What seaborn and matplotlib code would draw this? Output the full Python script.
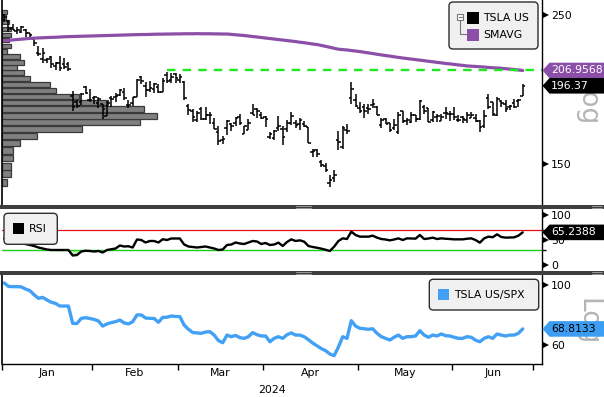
import numpy as np
import pandas as pd
import matplotlib
matplotlib.use("Agg")
import matplotlib.pyplot as plt
import seaborn as sns
from matplotlib.patches import Polygon, FancyBboxPatch, Rectangle
from matplotlib.lines import Line2D
from matplotlib.transforms import Affine2D
from matplotlib.ticker import NullLocator, FixedLocator

sns.set_theme(style="white")
plt.rcParams["font.family"] = ["DejaVu Sans"]

# ---------------- data (trading days 2 Jan 2024 .. 26 Jun 2024) ----------------
opens = [250.08, 244.98, 239.25, 236.86, 236.14, 238.11, 235.10, 230.57, 220.08, 215.10, 214.86, 216.88, 209.99, 212.26, 211.30, 211.88, 189.70, 185.50, 185.63, 195.33, 187.00,
         188.50, 185.04, 184.26, 177.21, 188.18, 189.00, 190.18, 192.11, 183.99, 185.30, 189.16, 202.06, 196.13, 193.36, 194.00, 195.31, 192.29, 204.04, 200.42, 204.18,
         200.52, 198.73, 183.05, 179.99, 174.35, 181.50, 175.45, 177.77, 173.05, 167.77, 163.16, 170.02, 172.36, 173.00, 176.39, 166.69, 168.76, 178.58, 181.41, 177.45,
         176.17, 164.75, 164.02, 170.07, 169.08, 169.34, 172.91, 173.04, 172.55, 172.34, 170.24, 156.74, 157.64, 151.25, 148.97, 140.56, 143.33, 162.84, 158.96, 168.85, 188.42, 186.98,
         182.00, 182.86, 182.10, 183.80, 182.40, 171.59, 175.01, 173.05, 170.00, 167.86, 179.90, 174.10, 173.55, 177.56, 175.51, 182.85, 181.80, 174.84, 176.40, 174.19, 178.58, 178.50,
         178.13, 174.78, 176.54, 174.60, 176.13, 176.06, 173.92, 171.12, 188.39, 185.80, 177.92, 186.56, 184.68, 182.30, 184.97, 186.54, 189.67]
highs = [251.25, 245.68, 242.70, 240.12, 241.25, 238.96, 235.50, 230.93, 225.34, 223.49, 215.67, 217.45, 213.19, 217.80, 215.65, 212.73, 193.00, 186.78, 191.48, 196.36, 193.97,
         189.88, 188.69, 184.68, 186.49, 189.79, 191.62, 194.12, 194.73, 187.26, 188.89, 200.88, 203.17, 198.60, 199.44, 198.32, 197.57, 201.78, 205.60, 205.30, 205.28,
         204.52, 199.75, 184.59, 181.58, 180.04, 182.73, 182.87, 179.43, 176.05, 171.17, 165.19, 174.72, 172.82, 176.25, 178.18, 171.20, 175.24, 184.25, 181.91, 179.57,
         176.75, 167.69, 168.82, 177.19, 170.86, 174.50, 179.22, 174.93, 175.88, 173.81, 170.69, 158.19, 158.33, 152.20, 150.94, 144.44, 147.26, 167.97, 170.88, 172.12, 198.87, 190.95,
         185.86, 184.60, 184.78, 187.56, 183.26, 176.06, 175.62, 173.06, 175.40, 179.63, 180.00, 175.79, 179.63, 177.75, 186.88, 183.80, 181.90, 180.08, 178.25, 178.15, 182.67, 180.32,
         182.64, 177.76, 176.75, 179.73, 179.35, 178.57, 174.75, 180.55, 191.08, 186.00, 188.81, 187.20, 187.20, 183.95, 187.97, 187.57, 197.25]
lows = [244.41, 236.32, 237.73, 234.90, 235.30, 232.04, 231.29, 225.37, 217.15, 212.18, 212.01, 208.74, 207.56, 206.27, 207.75, 206.77, 180.06, 182.10, 183.67, 190.61, 185.85,
        184.28, 182.00, 175.01, 177.11, 182.68, 185.58, 189.48, 187.28, 182.11, 183.35, 188.86, 197.40, 189.13, 191.95, 191.36, 191.50, 192.00, 198.26, 198.44, 198.45,
        198.50, 186.72, 177.57, 173.70, 173.70, 174.70, 174.80, 172.41, 169.15, 160.51, 160.76, 165.90, 168.42, 170.82, 171.80, 166.30, 168.73, 177.38, 176.00, 175.30,
        170.21, 163.43, 163.28, 168.01, 160.51, 167.79, 171.92, 170.01, 168.51, 170.36, 161.38, 153.75, 153.78, 148.70, 146.22, 138.80, 141.11, 157.51, 158.36, 166.37, 184.54, 182.84,
        179.01, 176.02, 178.42, 182.20, 177.40, 170.15, 172.05, 167.75, 169.00, 166.70, 173.11, 171.43, 172.75, 173.52, 174.71, 178.12, 173.26, 173.73, 173.16, 173.93, 175.38, 173.82,
        174.49, 173.52, 172.78, 172.73, 175.58, 173.17, 167.41, 169.80, 181.23, 176.92, 177.00, 182.37, 179.66, 180.69, 182.01, 182.56, 189.34]
closes = [248.42, 238.45, 237.93, 237.49, 240.45, 234.96, 233.94, 227.22, 218.89, 219.91, 215.55, 211.88, 212.19, 208.80, 209.14, 207.83, 182.63, 183.25, 190.93, 191.59, 187.29,
          188.86, 187.91, 181.06, 185.10, 187.58, 189.56, 193.57, 188.13, 184.02, 188.71, 200.45, 199.95, 193.76, 194.77, 197.41, 191.97, 199.40, 199.73, 202.04, 201.88,
          202.64, 188.14, 180.74, 176.54, 178.65, 175.34, 177.77, 177.54, 169.48, 162.50, 163.57, 173.80, 171.32, 175.66, 172.82, 170.83, 172.63, 177.67, 179.83, 175.79,
          175.22, 166.63, 168.38, 171.11, 164.90, 172.98, 176.88, 171.76, 174.60, 171.05, 161.48, 157.11, 155.45, 149.93, 147.05, 142.05, 144.68, 162.13, 170.18, 168.29, 194.05, 183.28,
          179.99, 180.01, 181.19, 184.76, 177.81, 174.72, 171.97, 168.47, 171.89, 177.55, 173.99, 174.84, 177.46, 174.95, 186.60, 180.11, 173.74, 179.24, 176.75, 176.19, 178.79, 178.08,
          176.29, 174.77, 175.00, 177.94, 177.48, 173.79, 170.66, 177.29, 182.47, 178.01, 187.44, 184.86, 181.57, 183.01, 182.58, 187.35, 196.37]
smavg = [229.2, 229.5, 229.8, 230.1, 230.4, 230.7, 231.0,
         231.2, 231.4, 231.5, 231.7, 231.8, 231.9, 232.1, 232.3,
         232.4, 232.5, 232.6, 232.7, 232.8, 232.9, 233.0, 233.1,
         233.2, 233.3, 233.4, 233.5, 233.6, 233.7, 233.8, 233.9,
         234.0, 234.1, 234.1, 234.2, 234.3, 234.4, 234.4, 234.5,
         234.5, 234.6, 234.6, 234.7, 234.7, 234.7, 234.8, 234.7,
         234.7, 234.7, 234.6, 234.6, 234.5, 234.5,
         234.2, 233.9, 233.6, 233.3, 232.9,
         232.5, 232.1, 231.7, 231.3, 230.9, 230.5, 230.1, 229.7,
         229.3, 228.9, 228.5, 228.0, 227.6, 227.1, 226.6, 226.2,
         225.5, 224.8, 224.1, 223.3, 222.6,
         222.3, 222.0, 221.6, 221.2,
         220.8, 220.3, 219.8, 219.3, 218.8,
         218.3, 217.8, 217.4, 216.9, 216.4,
         216.0, 215.6, 215.2, 214.8, 214.4, 214.0, 213.6, 213.2,
         212.8, 212.4, 212.0, 211.7, 211.3, 210.9, 210.6, 210.2,
         210.0, 209.8, 209.6, 209.4, 209.1, 208.9, 208.7, 208.5,
         208.2, 207.9, 207.6, 207.3, 206.9568]
rsi = [53, 53, 52, 51, 43, 42, 40, 38, 35, 33, 31, 30, 30, 30, 30, 30, 19, 20, 27, 28.5, 28,
       27, 28, 25, 30, 31.5, 33, 39, 37, 37.5, 35, 51, 50, 45, 48, 48, 45, 51.5, 50, 53, 53,
       53, 41, 37, 36, 35, 36, 37, 35, 33, 30, 31, 40, 41, 45, 43, 42, 45, 48, 47, 42,
       44, 40, 41, 44.7, 38, 46, 51.3, 48, 49.3, 46.7, 38, 36, 34.5, 32.7, 30.5, 28, 36.7, 48, 53.3, 52, 66.7, 60,
       56.7, 56.7, 56.7, 58.7, 54.7, 52, 51, 49.3, 51, 53.3, 50, 53.3, 53, 52.7, 60, 52, 53, 54.7, 52, 53.3, 52.5, 52,
       51.3, 51.3, 51.3, 52.5, 53.3, 50, 44.7, 53.3, 56.7, 55.5, 61.3, 56, 54.7, 55, 55.3, 58.7, 65.2388]
rel_spx = [101.8, 98.8, 98.6, 98.6, 98.4, 96.6, 95.3, 92.0, 89.3, 90.0, 88.0, 86.3, 85.5, 83.6, 83.6, 83.6, 72.1, 72.1, 75.3, 75.7, 75.2,
           74.6, 73.6, 70.5, 71.8, 72.6, 73.2, 74.2, 72.4, 71.8, 73.2, 77.5, 77.5, 75.5, 75.3, 75.2, 72.8, 75.9, 76.0, 76.8, 76.5,
           76.4, 71.1, 68.6, 66.7, 66.5, 66.3, 67.0, 67.2, 65.3, 62.3, 61.2, 65.3, 64.4, 65.1, 63.9, 63.5, 64.4, 66.7, 65.5, 64.8,
           64.8, 61.7, 63.5, 64.4, 63.5, 65.5, 66.5, 65.3, 65.3, 64.4, 62.8, 61.0, 59.6, 58.2, 57.2, 55.6, 54.8, 59.0, 64.4, 63.5, 73.8, 70.5,
           69.2, 68.9, 68.6, 68.9, 66.3, 64.4, 63.5, 62.6, 64.1, 65.3, 63.5, 64.4, 64.4, 64.8, 67.8, 65.3, 64.1, 65.3, 64.8, 65.9, 65.0, 64.8,
           64.1, 63.5, 63.5, 64.4, 64.1, 62.5, 61.7, 63.5, 64.4, 63.5, 65.9, 65.3, 64.8, 65.3, 65.3, 66.3, 68.8133]
# volume-at-price profile (price bin centre, volume in millions of shares)
vap_prices = [141.0, 145.3, 149.1, 153.3, 157.4, 161.3, 165.1, 169.2, 173.5, 177.1, 181.5, 185.4, 189.3, 193.1,
              197.0, 201.1, 205.2, 209.2, 212.8, 216.9, 221.0, 225.1, 229.6, 233.9, 238.8, 244.1, 248.5, 252.8]
vap_volume = [46, 86, 86, 113, 113, 176, 346, 796, 1376, 1546, 1420, 1056, 770, 540,
              480, 276, 216, 146, 216, 180, 46, 90, 73, 90, 90, 66, 40, 46]

month_labels = ["Jan", "Feb", "Mar", "Apr", "May", "Jun"]
trading_days_per_month = [21, 20, 20, 22, 22, 19]
year_label = "2024"
price_ticks = [150, 250]
rsi_ticks = [0, 50, 100]
rel_ticks = [60, 100]
rsi_upper, rsi_lower = 70, 30
level_value = 206.9568
level_start_day = 38
series_names = ["TSLA US", "SMAVG", "RSI", "TSLA US/SPX"]

PURPLE = "#8b4fa8"
BLUE = "#42a1f5"
GREEN_DASH = "#22e622"

# ---------------- figure layout ----------------
W, H, DPI = 604, 397, 100
fig = plt.figure(figsize=(W / DPI, H / DPI), dpi=DPI)
fig.patch.set_facecolor("white")
PX = Affine2D().scale(1.0 / W, 1.0 / H) + fig.transFigure


def rect(x0, y0, x1, y1):
    return [x0 / W, 1 - y1 / H, (x1 - x0) / W, (y1 - y0) / H]


X0, X1 = 2, 542
n = len(closes)
day = np.arange(n)
XLIM = (-0.5, 125.5)
FS = 7.8

axv = fig.add_axes(rect(X0, 0, X1, 205), label="vap")
ax1 = fig.add_axes(rect(X0, 0, X1, 205), label="price")
ax2 = fig.add_axes(rect(X0, 209.3, X1, 271), label="rsi")
ax3 = fig.add_axes(rect(X0, 275.3, X1, 364), label="rel")

# volume at price
axv.set_yscale("log")
axv.barh(vap_prices, vap_volume, height=3.5, left=0, color="#808080",
         edgecolor="#3a3a3a", linewidth=0.9)
axv.set_xlim(0, 5400)
axv.set_ylim(130.5, 263.5)
axv.set_axis_off()

# price panel
ax1.set_yscale("log")
ax1.vlines(day, lows, highs, color="black", lw=1.1)
ax1.hlines(opens, day - 0.6, day, color="black", lw=1.1)
ax1.hlines(closes, day, day + 0.6, color="black", lw=1.1)
sns.lineplot(x=day, y=smavg, ax=ax1, color=PURPLE, lw=2.3, estimator=None)
ax1.plot([level_start_day, XLIM[1]], [level_value, level_value], color=GREEN_DASH,
         lw=1.7, ls=(0, (3.6, 3.0)))
ax1.set_ylim(130.5, 263.5)

# RSI panel
rsi_arr = np.array(rsi)
ax2.fill_between(day, rsi_arr, rsi_lower, where=rsi_arr < rsi_lower, interpolate=True,
                 color="#bdf0bd", lw=0)
ax2.axhline(rsi_upper, color="#e01010", lw=0.9)
ax2.axhline(rsi_lower, color="#18d018", lw=1.0)
sns.lineplot(x=day, y=rsi, ax=ax2, color="black", lw=1.7, estimator=None)
ax2.set_ylim(-12, 111.4)

# relative performance panel
ax3.set_yscale("log")
sns.lineplot(x=day, y=rel_spx, ax=ax3, color=BLUE, lw=2.4, estimator=None)
ax3.set_ylim(51.05, 108.6)

for ax in (ax1, ax2, ax3):
    ax.set_xlim(XLIM)
    ax.set_facecolor("none")
    ax.grid(False)
    ax.set_xlabel("")
    ax.set_ylabel("")
    for s in ("top", "bottom", "left", "right"):
        ax.spines[s].set_visible(False)
    ax.spines["right"].set_visible(True)
    ax.spines["right"].set_color("black")
    ax.spines["right"].set_linewidth(1.0)
    ax.yaxis.tick_right()
    ax.yaxis.set_minor_locator(NullLocator())

for ax in (ax1, ax3):
    ax.spines["left"].set_visible(True)
    ax.spines["left"].set_color("black")
    ax.spines["left"].set_linewidth(1.2)
ax3.spines["bottom"].set_visible(True)
ax3.spines["bottom"].set_color("black")
ax3.spines["bottom"].set_linewidth(1.0)

for ax, ticks in ((ax1, price_ticks), (ax2, rsi_ticks), (ax3, rel_ticks)):
    ax.set_yticks(ticks)
    ax.set_yticklabels([str(t) for t in ticks])
    ax.tick_params(axis="y", which="major", length=0, pad=6.3, labelsize=FS,
                   labelcolor="black", right=True, left=False)
    ax.plot([1 + 3.5 / 540] * len(ticks), ticks, transform=ax.get_yaxis_transform(),
            ls="none", marker=">", ms=5, color="black", mew=0, clip_on=False)

ax2.yaxis.set_minor_locator(FixedLocator([rsi_lower, rsi_upper]))
ax2.tick_params(axis="y", which="minor", length=3, width=1, color="black",
                right=True, left=False, direction="out")

ax1.set_xticks([])
ax2.set_xticks([])

bounds = [-0.5]
for m in trading_days_per_month:
    bounds.append(bounds[-1] + m)
centers = [(a + b) / 2 for a, b in zip(bounds[:-1], bounds[1:])]
ax3.set_xticks(bounds)
ax3.set_xticklabels([""] * len(bounds))
ax3.set_xticks(centers, minor=True)
ax3.set_xticklabels(month_labels, minor=True)
ax3.tick_params(axis="x", which="major", length=4, width=1, color="black",
                bottom=True, direction="out")
ax3.tick_params(axis="x", which="minor", length=0, pad=3, labelsize=FS,
                labelcolor="black", bottom=True)
ax3.set_xlim(XLIM)

fig.text(272 / W, 1 - 390 / H, year_label, ha="center", va="center", fontsize=FS,
         color="black")

# panel separators
for y0, y1 in ((205, 209.3), (271, 275.3)):
    fig.add_artist(Rectangle((0, H - y1), W, y1 - y0, transform=PX, fc="#3e3e3e",
                             ec="none", zorder=3))
    for gx0, gx1 in ((296, 311), (592, 602)):
        for dy in (1.4, 2.8):
            fig.add_artist(Line2D([gx0, gx1], [H - y0 - dy] * 2, transform=PX,
                                  color="#a8a8a8", lw=0.6, zorder=3.5))

# "Log" watermarks
fig.text(586 / W, 1 - 103 / H, "Log", rotation=270, fontsize=19, color="#b5b5b5",
         ha="center", va="center", zorder=4)
fig.text(587 / W, 1 - 322 / H, "Log", rotation=270, fontsize=19, color="#b5b5b5",
         ha="center", va="center", zorder=4)


# legends
def legend_box(x0, y0, x1, y1):
    fig.add_artist(FancyBboxPatch((x0, H - y1), x1 - x0, y1 - y0,
                                  boxstyle="round,pad=0,rounding_size=4", transform=PX,
                                  fc="#f0f0f0", ec="#2e2e2e", lw=1.0, zorder=5))


def swatch(x0, y0, size, color):
    fig.add_artist(Rectangle((x0, H - y0 - size), size, size, transform=PX, fc=color,
                             ec="none", zorder=6))


def label(x, yc, s):
    fig.text(x / W, 1 - yc / H, s, ha="left", va="center", fontsize=FS, color="black",
             zorder=7)


legend_box(449, 2, 538, 49)
fig.add_artist(Rectangle((457.3, H - 20), 6, 6, transform=PX, fc="white", ec="#777777",
                         lw=0.8, zorder=6))
fig.add_artist(Line2D([458.6, 462.0], [H - 17, H - 17], transform=PX, color="#777777",
                      lw=0.8, zorder=6))
fig.add_artist(Line2D([460.3, 460.3, 466.5], [H - 20, H - 34, H - 34], transform=PX,
                      color="#777777", lw=0.8, zorder=6))
swatch(467, 12, 12, "black")
label(483, 18, series_names[0])
swatch(467, 28.5, 12, PURPLE)
label(483, 34.5, series_names[1])

legend_box(4, 213.3, 57.3, 244.3)
swatch(13.3, 223.3, 10.7, "black")
label(29, 229, series_names[2])

legend_box(429.3, 279.3, 538.7, 310)
swatch(438.3, 289.3, 11, BLUE)
label(454, 295, series_names[3])


# value tags on the right axis
def tag(ax, val, text, fc, tc):
    yb = ax.transData.transform((0, val))[1] / fig.bbox.height * H
    verts = [(542.5, yb), (549.5, yb + 7.8), (615, yb + 7.8), (615, yb - 7.8),
             (549.5, yb - 7.8)]
    fig.add_artist(Polygon(verts, closed=True, transform=PX, fc=fc, ec="none", zorder=8))
    fig.text(551 / W, yb / H, text, ha="left", va="center", fontsize=FS, color=tc,
             zorder=9)


tag(ax1, smavg[-1], f"{smavg[-1]:.4f}", PURPLE, "white")
tag(ax1, closes[-1], f"{closes[-1]:.2f}", "black", "white")
tag(ax2, rsi[-1], f"{rsi[-1]:.4f}", "black", "white")
tag(ax3, rel_spx[-1], f"{rel_spx[-1]:.4f}", "#3d9df2", "black")

fig.savefig("out.png", dpi=DPI)
